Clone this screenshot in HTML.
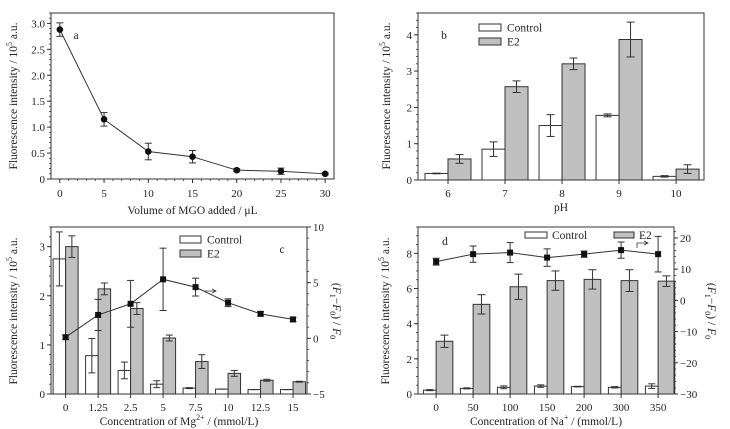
<!DOCTYPE html>
<html><head><meta charset="utf-8"><style>
html,body{margin:0;padding:0;background:#fff;}
svg{display:block;font-family:"Liberation Serif","Times New Roman",serif;}
text{fill:#222;font-size:11px;font-family:"Liberation Serif","Times New Roman",serif;}
</style></head><body>
<svg id="chart" width="730" height="429" viewBox="0 0 730 429" xmlns="http://www.w3.org/2000/svg"></svg>
<script>
const aX=[0,5,10,15,20,25,30];
const aY=[2.88,1.15,0.53,0.43,0.17,0.15,0.10];
const aErr=[0.13,0.13,0.16,0.12,0.03,0.06,0.02];
const aXTicks=[0,5,10,15,20,25,30];
const aYTicks=[0,0.5,1.0,1.5,2.0,2.5,3.0];
const aYLabels=['0','0.5','1.0','1.5','2.0','2.5','3.0'];

const bCats=['6','7','8','9','10'];
const bCtrl=[0.18,0.85,1.5,1.78,0.1];
const bCtrlErr=[0.01,0.2,0.3,0.04,0.02];
const bE2=[0.58,2.57,3.2,3.87,0.3];
const bE2Err=[0.12,0.16,0.16,0.48,0.12];
const bYTicks=[0,1,2,3,4];

const cCats=['0','1.25','2.5','5','7.5','10','12.5','15'];
const cCtrl=[2.75,0.78,0.48,0.2,0.12,0.1,0.09,0.09];
const cCtrlErr=[0.55,0.35,0.17,0.07,0.01,0,0,0];
const cE2=[3.0,2.14,1.74,1.14,0.66,0.42,0.28,0.25];
const cE2Err=[0.22,0.12,0.12,0.06,0.14,0.06,0.02,0.01];
const cLine=[0.1,2.1,3.1,5.3,4.6,3.2,2.2,1.7];
const cLineErr=[0.2,1.4,2.1,2.8,0.8,0.35,0.2,0.2];
const cYTicks=[0,1,2,3];
const cRTicks=[-5,0,5,10];

const dCats=['0','50','100','150','200','300','350'];
const dCtrl=[0.22,0.32,0.38,0.45,0.42,0.38,0.45];
const dCtrlErr=[0.03,0.03,0.08,0.07,0.02,0.04,0.13];
const dE2=[3.0,5.1,6.1,6.45,6.52,6.45,6.42];
const dE2Err=[0.35,0.55,0.72,0.55,0.55,0.62,0.3];
const dLine=[12.4,14.8,15.3,13.7,14.8,16.1,14.8];
const dLineErr=[1.1,2.6,3.2,2.8,1.0,2.6,5.7];
const dYTicks=[0,2,4,6,8];
const dRTicks=[-30,-20,-10,0,10,20];

const NS='http://www.w3.org/2000/svg';
const svg=document.getElementById('chart');
function mk(tag,attrs,parent){const e=document.createElementNS(NS,tag);for(const k in attrs)e.setAttribute(k,attrs[k]);(parent||svg).appendChild(e);return e;}
function lin(d0,d1,r0,r1){return v=>r0+(v-d0)/(d1-d0)*(r1-r0);}
const STK='#333';
function line(p,x1,y1,x2,y2,w){return mk('line',{x1:x1,y1:y1,x2:x2,y2:y2,stroke:STK,'stroke-width':w||1},p);}
function txt(p,x,y,s,anchor){const t=mk('text',{x:x,y:y,'text-anchor':anchor||'middle'},p);t.textContent=s;return t;}

function frame(p,L,R,T,B){
  const r=mk('rect',{x:L,y:T,width:R-L,height:B-T,fill:'none',stroke:STK,'stroke-width':1},p);
  
  
}
function axisLeft(p,x,sy,ticks,labels,minStep,lo,hi){
  const g=mk('g',{},p);
  
  
  for(let v=lo;v<=hi+1e-9;v+=minStep)line(g,x-2,sy(v),x,sy(v),0.8);
  ticks.forEach((v,i)=>{line(g,x-4,sy(v),x,sy(v));const t=txt(g,x-6,sy(v)+4,labels[i],'end');
    
    });
}
function axisRight(p,x,sy,ticks,minStep,lo,hi){
  const g=mk('g',{},p);
  
  
  for(let v=lo;v<=hi+1e-9;v+=minStep)line(g,x,sy(v),x+2,sy(v),0.8);
  ticks.forEach(v=>{line(g,x,sy(v),x+4,sy(v));const t=txt(g,x+6,sy(v)+4,v<0?'\u2212'+(-v):String(v),'start');
    
    });
}
function axisBottom(p,y,positions,labels,minors,ly){
  const g=mk('g',{},p);
  
  
  (minors||[]).forEach(x=>line(g,x,y,x,y+2,0.8));
  positions.forEach((x,i)=>{line(g,x,y,x,y+4);const t=txt(g,x,ly,labels[i]);
    
    });
}
function errbar(p,x,y1,y2,cw){
  const g=mk('g',{},p);
  
  
  line(g,x,y1,x,y2);line(g,x-cw/2,y1,x+cw/2,y1);line(g,x-cw/2,y2,x+cw/2,y2);
}
function yTitle(p,x,y,rot){
  const t=mk('text',{x:0,y:0,'text-anchor':'middle',transform:`translate(${x},${y}) rotate(${rot})`,style:'font-size:11.5px'},p);
  t.innerHTML='Fluorescence intensity / 10<tspan dy="-5" style="font-size:8px">5</tspan><tspan dy="5"> a.u.</tspan>';
  
  
}
function rTitle(p,x,y){
  const t=mk('text',{x:0,y:0,'text-anchor':'middle',transform:`translate(${x},${y}) rotate(90)`,style:'font-size:11.5px'},p);
  t.innerHTML='(<tspan font-style="italic">F</tspan><tspan dy="3" style="font-size:8px">1</tspan><tspan dy="-3">\u2212</tspan><tspan font-style="italic">F</tspan><tspan dy="3" style="font-size:8px">0</tspan><tspan dy="-3">) / </tspan><tspan font-style="italic">F</tspan><tspan dy="3" style="font-size:8px">0</tspan>';
  
  
}
function bars(p,xs,vals,errs,sy,w,off,fill,name,cw){
  vals.forEach((v,i)=>{
    const x=xs[i]+off;
    const r=mk('rect',{x:x,y:sy(v),width:w,height:sy(0)-sy(v),fill:fill,stroke:STK,'stroke-width':1},p);
    
    
    errbar(p,x+w/2,sy(v+errs[i]),sy(v-errs[i]),cw);
  });
}
function legend(p,x,y1,y2,h,w){
  const g=mk('g',{},p);
  
  
  const r1=mk('rect',{x:x,y:y1,width:w,height:h,fill:'#fff',stroke:STK},g);
  
  
  const t1=txt(g,x+w+6,y1+h/2+4,'Control','start');t1.setAttribute('style','font-size:11.5px');
  
  
  const r2=mk('rect',{x:x,y:y2,width:w,height:h,fill:'#c0c0c0',stroke:STK},g);
  
  
  const t2=txt(g,x+w+6,y2+h/2+4,'E2','start');t2.setAttribute('style','font-size:11.5px');
  
  
}

/* ---------- Panel a ---------- */
(function(){
  const g=mk('g',{});
  
  
  const L=51,R=334,T=13,B=179;
  const sx=lin(-1,31,L,R), sy=lin(0,3.2,B,T);
  frame(g,L,R,T,B);
  axisLeft(g,L,sy,aYTicks,aYLabels,0.1,0,3.2);
  const mins=[];for(let v=0;v<=30;v++)mins.push(sx(v));
  axisBottom(g,B,aXTicks.map(sx),aXTicks.map(String),mins,197);
  yTitle(g,17,96,-90);
  const xt=txt(g,(L+R)/2,214,'Volume of MGO added / \u03bcL');xt.setAttribute('style','font-size:11.5px');
  
  
  const pl=mk('polyline',{points:aX.map((x,i)=>sx(x)+','+sy(aY[i])).join(' '),fill:'none',stroke:STK,'stroke-width':1},g);
  
  
  aX.forEach((x,i)=>{
    errbar(g,sx(x),sy(aY[i]+aErr[i]),sy(aY[i]-aErr[i]),7);
    const c=mk('circle',{cx:sx(x),cy:sy(aY[i]),r:3.3,fill:'#111'},g);
    
    
  });
  const lb=txt(g,76,39,'a');lb.setAttribute('style','font-size:11.5px');
  
  
})();

/* ---------- Panel b ---------- */
(function(){
  const g=mk('g',{});
  
  
  const L=418,R=704,T=13,B=180;
  const sx=lin(-0.526,4.49,L,R), sy=lin(0,4.6,B,T);
  const xs=bCats.map((c,i)=>sx(i));
  bars(g,xs,bCtrl,bCtrlErr,sy,23,-23,'#fff','bar-control',8);
  bars(g,xs,bE2,bE2Err,sy,23,0,'#c0c0c0','bar-e2',8);
  frame(g,L,R,T,B);
  axisLeft(g,L,sy,bYTicks,bYTicks.map(String),0.2,0,4.6);
  axisBottom(g,B,xs,bCats,[],197);
  yTitle(g,390,96,-90);
  const xt=txt(g,(L+R)/2,211,'pH');xt.setAttribute('style','font-size:11.5px');
  
  
  legend(g,479,24,38,7,22);
  const lb=txt(g,444,39,'b');lb.setAttribute('style','font-size:11.5px');
  
  
})();

/* ---------- Panel c ---------- */
(function(){
  const g=mk('g',{});
  
  
  const L=51,R=307,T=227,B=394;
  const sx=lin(-0.45,7.43,L,R), sy=lin(0,3.4,B,T), sr=lin(-5,10,B,T);
  const xs=cCats.map((c,i)=>sx(i));
  bars(g,xs,cCtrl,cCtrlErr,sy,12.5,-12.5,'#fff','bar-control',7);
  bars(g,xs,cE2,cE2Err,sy,12.5,0,'#c0c0c0','bar-e2',7);
  frame(g,L,R,T,B);
  axisLeft(g,L,sy,cYTicks,cYTicks.map(String),0.2,0,3.4);
  axisRight(g,R,sr,cRTicks,1,-5,10);
  axisBottom(g,B,xs,cCats,[],411);
  yTitle(g,17,311,-90);
  rTitle(g,333,311);
  const xt=mk('text',{x:(L+R)/2,y:425,'text-anchor':'middle',style:'font-size:11.5px'},g);
  xt.innerHTML='Concentration of Mg<tspan dy="-5" style="font-size:8px">2+</tspan><tspan dy="5"> / (mmol/L)</tspan>';
  
  
  const pl=mk('polyline',{points:xs.map((x,i)=>x+','+sr(cLine[i])).join(' '),fill:'none',stroke:STK},g);
  
  
  xs.forEach((x,i)=>{
    errbar(g,x,sr(cLine[i]+cLineErr[i]),sr(cLine[i]-cLineErr[i]),7);
    const s=mk('rect',{x:x-3,y:sr(cLine[i])-3,width:6,height:6,fill:'#111'},g);
    
    
  });
  legend(g,180,236,250,7,21);
  const ar=mk('path',{d:'M205 291 L216 291 M212 289 L216 291 L212 293',fill:'none',stroke:STK,'stroke-width':0.8},g);
  
  
  const lb=txt(g,282,253,'c');lb.setAttribute('style','font-size:11.5px');
  
  
})();

/* ---------- Panel d ---------- */
(function(){
  const g=mk('g',{});
  
  
  const L=418,R=674,T=227,B=394;
  const sx=lin(-0.49,6.43,L,R), sy=lin(0,9.5,B,T), sr=lin(-30,23.5,B,T);
  const xs=dCats.map((c,i)=>sx(i));
  bars(g,xs,dCtrl,dCtrlErr,sy,12.7,-12.7,'#fff','bar-control',7);
  bars(g,xs,dE2,dE2Err,sy,16.7,0,'#c0c0c0','bar-e2',8);
  frame(g,L,R,T,B);
  axisLeft(g,L,sy,dYTicks,dYTicks.map(String),0.5,0,9.5);
  axisRight(g,R,sr,dRTicks,2,-30,22);
  axisBottom(g,B,xs,dCats,[],411);
  yTitle(g,389,311,-90);
  rTitle(g,708,311);
  const xt=mk('text',{x:(L+R)/2,y:425,'text-anchor':'middle',style:'font-size:11.5px'},g);
  xt.innerHTML='Concentration of Na<tspan dy="-5" style="font-size:8px">+</tspan><tspan dy="5"> / (mmol/L)</tspan>';
  
  
  const pl=mk('polyline',{points:xs.map((x,i)=>x+','+sr(dLine[i])).join(' '),fill:'none',stroke:STK},g);
  
  
  xs.forEach((x,i)=>{
    errbar(g,x,sr(dLine[i]+dLineErr[i]),sr(dLine[i]-dLineErr[i]),7);
    const s=mk('rect',{x:x-3,y:sr(dLine[i])-3,width:6,height:6,fill:'#111'},g);
    
    
  });
  const lg=mk('g',{},g);
  
  
  const r1=mk('rect',{x:525,y:232,width:22,height:6,fill:'#fff',stroke:STK},lg);
  
  
  const t1=txt(lg,552,239,'Control','start');t1.setAttribute('style','font-size:11.5px');
  
  
  const r2=mk('rect',{x:614,y:232,width:20,height:6,fill:'#c0c0c0',stroke:STK},lg);
  
  
  const t2=txt(lg,639,239,'E2','start');t2.setAttribute('style','font-size:11.5px');
  
  
  const ar=mk('path',{d:'M637 248 L637 243 L648 243 M644 241 L648 243 L644 245',fill:'none',stroke:STK,'stroke-width':0.8},g);
  
  
  const lb=txt(g,445,245,'d');lb.setAttribute('style','font-size:11.5px');
  
  
})();
</script>
</body></html>
